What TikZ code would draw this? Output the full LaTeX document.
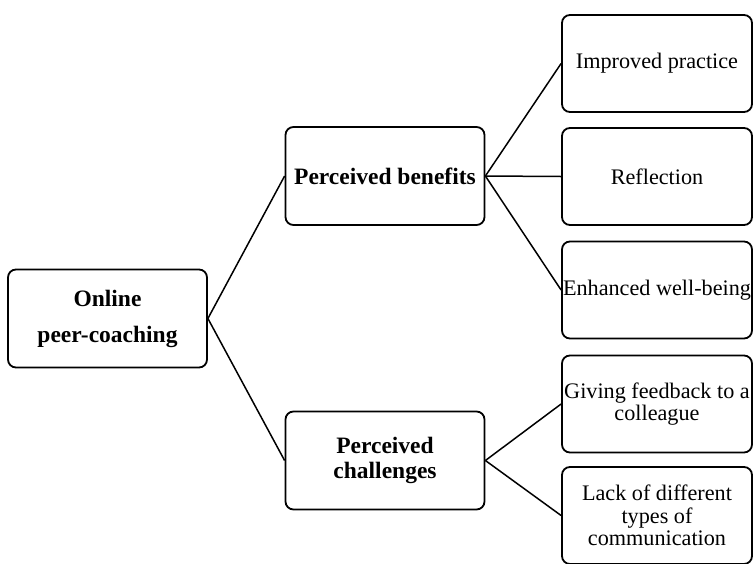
\documentclass[tikz,border=0pt]{standalone}
\usepackage{fontspec}
\setmainfont{Liberation Serif}
\tikzset{
  mainbox/.style={draw, line width=1.8pt, rounded corners=8pt, align=center,
    minimum width=199pt, minimum height=98pt, inner sep=0pt,
    font=\fontsize{23.5}{25}\selectfont\bfseries},
  leafbox/.style={draw, line width=1.8pt, rounded corners=8pt, align=center,
    minimum width=190pt, minimum height=97pt, inner sep=0pt,
    font=\fontsize{22.2}{22.5}\selectfont},
  link/.style={line width=1.5pt}
}
\begin{document}
\begin{tikzpicture}[x=1pt,y=-1pt]
      \useasboundingbox (0,0) rectangle (753,563);
      % Root and the two branches
      \node[mainbox] (root) at (107.5,318.5) {\raisebox{-3pt}{Online}\\[11pt]\raisebox{-3pt}{peer-coaching}};
      \node[mainbox] (benefits) at (385,176) {Perceived benefits};
      \node[mainbox] (challenges) at (385,460.5) {Perceived\\challenges};

      % Leaves
      \node[leafbox] (practice) at (657,63.5) {\raisebox{-3pt}{Improved practice}};
      \node[leafbox] (reflection) at (657,176.5) {Reflection};
      \node[leafbox] (wellbeing) at (657,290) {Enhanced well-being};
      \node[leafbox] (feedback) at (657,404) {Giving feedback to a\\colleague};
      \node[leafbox] (communication) at (657,515.5) {Lack of different\\types of\\communication};

      % Connectors
      \draw[link] (root.east) -- (benefits.west);
      \draw[link] (root.east) -- (challenges.west);
      \draw[link] (benefits.east) -- (practice.west);
      \draw[link] (benefits.east) -- (reflection.west);
      \draw[link] (benefits.east) -- (wellbeing.west);
      \draw[link] (challenges.east) -- (feedback.west);
      \draw[link] (challenges.east) -- (communication.west);
  \end{tikzpicture}
\end{document}
